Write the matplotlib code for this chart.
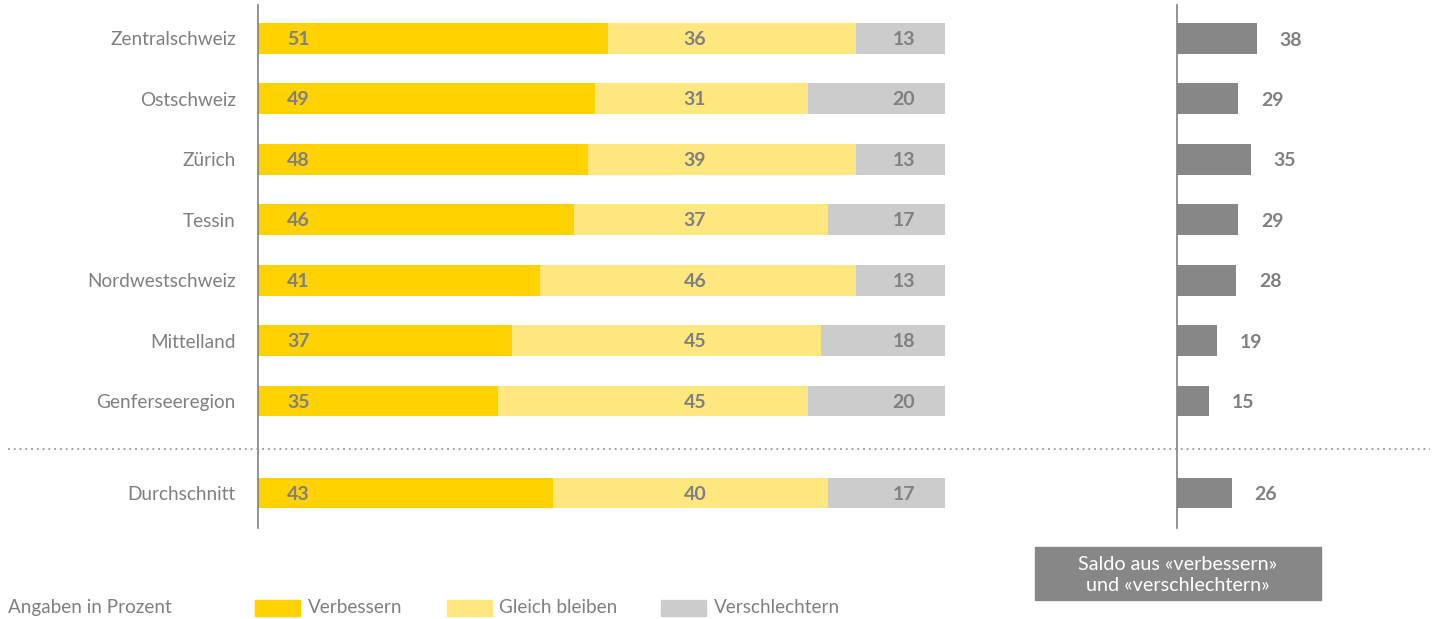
import matplotlib
matplotlib.use("Agg")
import matplotlib.pyplot as plt
from matplotlib.patches import Rectangle
import matplotlib.transforms as mtransforms

plt.rcParams['font.family'] = ['Lato', 'DejaVu Sans']

regions = ["Zentralschweiz", "Ostschweiz", "Zürich", "Tessin", "Nordwestschweiz",
           "Mittelland", "Genferseeregion", "Durchschnitt"]
verbessern = [51, 49, 48, 46, 41, 37, 35, 43]
gleich = [36, 31, 39, 37, 46, 45, 45, 40]
verschlechtern = [13, 20, 13, 17, 13, 18, 20, 17]
saldo = [38, 29, 35, 29, 28, 19, 15, 26]
legend_labels = ["Verbessern", "Gleich bleiben", "Verschlechtern"]
note_text = "Angaben in Prozent"
saldo_text = "Saldo aus «verbessern»\nund «verschlechtern»"

ypos = [0, 1, 2, 3, 4, 5, 6, 7.52]
sep_y = 6.79

C_YEL = "#FFD200"
C_LYEL = "#FFE780"
C_GRY = "#CCCCCC"
C_DGRY = "#878787"
C_TXT = "#808080"

W, H = 1438, 619
fig = plt.figure(figsize=(W / 100, H / 100), dpi=100)

def px_axes(x0, x1, ytop, ybot):
    return fig.add_axes([x0 / W, 1 - ybot / H, (x1 - x0) / W, (ybot - ytop) / H])

ylim = (8.1, -0.55)
axr = px_axes(1177, 1438, 5, 528)
ax = px_axes(258, 945, 5, 528)
ax.set_facecolor('none')
axr.set_facecolor('none')

bh = 0.51
ax.barh(ypos, verbessern, height=bh, color=C_YEL)
ax.barh(ypos, gleich, left=verbessern, height=bh, color=C_LYEL)
lefts3 = [a + b for a, b in zip(verbessern, gleich)]
ax.barh(ypos, verschlechtern, left=lefts3, height=bh, color=C_GRY)

lab_kw = dict(color=C_TXT, fontsize=14, fontweight='bold', va='center', ha='center')
for y, v, g, s in zip(ypos, verbessern, gleich, verschlechtern):
    ax.text(5.9, y + 0.02, str(v), **lab_kw)
    ax.text(63.6, y + 0.02, str(g), **lab_kw)
    ax.text(94.0, y + 0.02, str(s), **lab_kw)

ax.set_xlim(0, 100)
ax.set_ylim(*ylim)
for sp in ['top', 'right', 'bottom']:
    ax.spines[sp].set_visible(False)
ax.spines['left'].set_color(C_TXT)
ax.spines['left'].set_linewidth(1.2)
ax.set_xticks([])
ax.set_yticks(ypos)
ax.set_yticklabels(regions, fontsize=13.7, color=C_TXT)
ax.tick_params(axis='y', length=0, pad=16)

axr.barh(ypos, saldo, height=bh, color=C_DGRY)
axr.set_xlim(0, 261 / 2.1)
axr.set_ylim(*ylim)
for y, s in zip(ypos, saldo):
    axr.annotate(str(s), (s, y + 0.03), xytext=(23, 0), textcoords='offset pixels',
                 ha='left', va='center', color=C_TXT, fontsize=14, fontweight='bold')
for sp in ['top', 'right', 'bottom']:
    axr.spines[sp].set_visible(False)
axr.spines['left'].set_color(C_TXT)
axr.spines['left'].set_linewidth(1.2)
axr.set_xticks([])
axr.set_yticks([])

# dotted separator across the figure
trans = mtransforms.blended_transform_factory(fig.transFigure, ax.transData)
ax.plot([8 / W, 1430 / W], [sep_y, sep_y], transform=trans, clip_on=False,
        color="#999999", linestyle=(0, (1, 2.2)), linewidth=1.3, zorder=5)

# legend
base_y = 1 - 613 / H
fig.text(8 / W, base_y, note_text, color=C_TXT, fontsize=13.6, va='baseline', ha='left')
for (x0, x_txt), col, lab in zip([(255, 308), (447, 499), (661, 714)],
                                 [C_YEL, C_LYEL, C_GRY], legend_labels):
    fig.add_artist(Rectangle((x0 / W, 1 - 616 / H), 45 / W, 16 / H,
                             transform=fig.transFigure, color=col))
    fig.text(x_txt / W, base_y, lab, color=C_TXT, fontsize=13.6, va='baseline', ha='left')

# saldo box
fig.add_artist(Rectangle((1035 / W, 1 - 600 / H), 286 / W, 53 / H,
                         transform=fig.transFigure, color=C_DGRY))
fig.text(1178 / W, 1 - 575 / H, saldo_text, color='white', fontsize=14.2,
         ha='center', va='center', linespacing=1.3)

fig.savefig("out.png", dpi=100)
